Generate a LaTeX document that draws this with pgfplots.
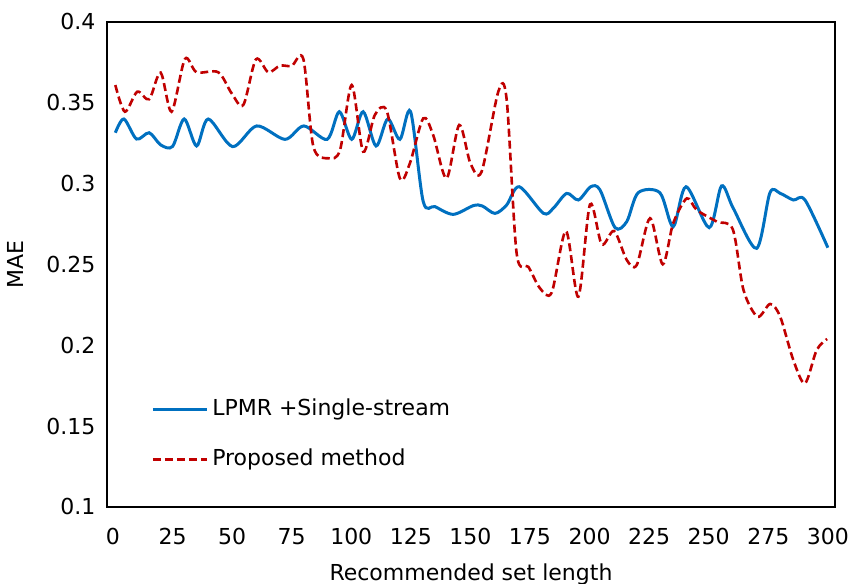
\documentclass[border=0pt]{standalone}
\usepackage{pgfplots}
\pgfplotsset{compat=1.18}
\usepackage{fontspec}
\setmainfont{DejaVu Sans}
\definecolor{cblue}{RGB}{0,112,192}
\definecolor{cred}{RGB}{192,0,0}
\begin{document}
\fontsize{11}{13.2}\selectfont
\begin{tikzpicture}
\begin{axis}[
  scale only axis, width=364pt, height=242.5pt,
  xmin=-2.5, xmax=303, ymin=0.1, ymax=0.4,
  xtick={0,25,...,300}, ytick={0.1,0.15,...,0.41},
  yticklabels={0.1,0.15,0.2,0.25,0.3,0.35,0.4},
  /pgf/number format/assume math mode=true,
  major tick length=0pt,
  axis line style={black, line width=1.2pt},
  tick label style={font=\fontsize{11}{13.2}\selectfont},
  xticklabel style={yshift=-7pt, text height=8pt, text depth=0pt},
  yticklabel style={xshift=-2pt},
  label style={font=\fontsize{11}{13.2}\selectfont},
  xlabel={Recommended set length}, ylabel={MAE},
  xlabel style={yshift=-2pt},
  ylabel style={yshift=4pt},
  legend style={at={(0.052,0.15)}, anchor=west, draw=none, fill=none,
    font=\fontsize{11}{13.2}\selectfont, row sep=11pt,
    legend cell align=left},
  legend image code/.code={\draw[#1] (0pt,0pt) -- (27pt,0pt);},
]
\addplot[cblue, line width=1.5pt, smooth, tension=0.5] coordinates {
(1,0.3315) (4.6,0.340) (9.9,0.3276) (15.2,0.3315) (20,0.324) (25,0.323) (29.9,0.340) (35.1,0.3233) (40,0.340) (50.2,0.3229) (60.3,0.3357) (72.2,0.3274) (80.1,0.3357) (89.9,0.3274) (95,0.3445) (100.2,0.3274) (105,0.3445) (110.4,0.3233) (115.3,0.340) (120.4,0.3274) (124.9,0.3445) (130.2,0.2889) (135.1,0.2858) (142.8,0.281) (151.2,0.2864) (155,0.2862) (160.3,0.2816) (165.2,0.2868) (170.5,0.2981) (180.6,0.2817) (184.8,0.2848) (190.4,0.294) (195.3,0.2899) (200.5,0.2981) (204.4,0.2961) (210.7,0.2728) (215.6,0.2765) (220.4,0.2944) (229.5,0.2944) (235.1,0.2734) (240.5,0.2981) (250.2,0.2728) (255.4,0.2986) (260.3,0.2848) (270.1,0.260) (275.7,0.2944) (280,0.294) (285.5,0.2899) (290.4,0.2899) (300,0.2604)
};
\addlegendentry{LPMR +Single-stream}
\addplot[cred, line width=1.3pt, dash pattern=on 4pt off 2pt, smooth, tension=0.5] coordinates {
(1,0.361) (5,0.3445) (10.2,0.3569) (15.2,0.3522) (20,0.3687) (24.6,0.3445) (30.2,0.3771) (35.1,0.3689) (44.2,0.3689) (49.8,0.3559) (54.7,0.3487) (60,0.3769) (65.2,0.3689) (70.1,0.373) (75,0.3728) (79.9,0.3771) (84.1,0.3229) (90.4,0.3157) (95.3,0.3208) (100.2,0.361) (105,0.3198) (109.9,0.3425) (114.9,0.345) (120.4,0.3033) (124.6,0.3126) (130.2,0.3404) (134.4,0.330) (140,0.3033) (145.3,0.3363) (150,0.3126) (154.7,0.3074) (161.7,0.3569) (165.2,0.3522) (169.4,0.2569) (174.3,0.2486) (179.2,0.2353) (184.1,0.2326) (190.1,0.2707) (195.3,0.2301) (200.2,0.2872) (205.1,0.2625) (210.3,0.2707) (215.6,0.2528) (219.8,0.2497) (225.4,0.2786) (230.7,0.2501) (235.1,0.2755) (240.8,0.2909) (245,0.2837) (253.4,0.2765) (260.1,0.2718) (264.6,0.2342) (270.5,0.2177) (275.8,0.2256) (280,0.2177) (285.5,0.1909) (290.4,0.1765) (295.3,0.1971) (299.7,0.2039)
};
\addlegendentry{Proposed method}
\end{axis}
\pgfresetboundingbox
\path (current axis.south west) ++(-53.5pt,-38.5pt) coordinate (bl);
\path (current axis.north east) ++(8pt,11pt) coordinate (tr);
\path (bl) rectangle (tr);
\end{tikzpicture}
\end{document}
